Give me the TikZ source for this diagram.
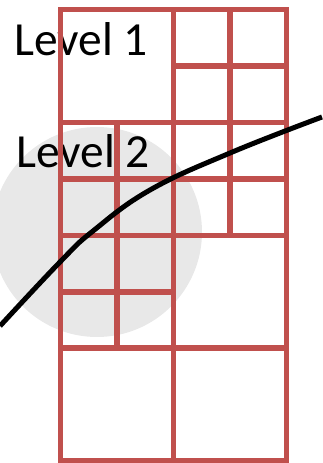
\documentclass[tikz,border=0pt]{standalone}
\usepackage{fontspec}
\setmainfont{Carlito}
\definecolor{cellred}{HTML}{C0504D}
\definecolor{blobgrey}{HTML}{E8E8E8}

\begin{document}
\begin{tikzpicture}[
  x=1pt, y=-1pt,
  gridline/.style={draw=cellred, line width=5.5pt},
  curve/.style={draw=black, line width=5pt},
  level/.style={anchor=base west, inner sep=0pt, font=\fontsize{47.5}{52}\selectfont},
]
\useasboundingbox (0,0) rectangle (322,463);

% grey blob behind the grid
\fill[blobgrey] (97,232) circle[radius=105pt];

\node[level] (lvlone) at (14,55) {Level 1};
\node[level] (lvltwo) at (16,167) {Level 2};

% refinement grid, in cell units
\begin{scope}[shift={(60.5,9.5)}, x=56.5pt, y=-56.45pt]
  \draw[gridline] (0,0) rectangle (4,8);
  \draw[gridline] (2,0) -- (2,8);
  \foreach \r in {2,3,4,6}
    \draw[gridline] (0,\r) -- (4,\r);
  \draw[gridline] (2,1) -- (4,1);
  \draw[gridline] (0,5) -- (2,5);
  \draw[gridline] (3,0) -- (3,4);
  \draw[gridline] (1,2) -- (1,6);
\end{scope}

\draw[curve] plot[smooth, tension=0.7] coordinates
  {(0,326) (60,262) (93,231) (150,190) (230,153) (322,117)};
\end{tikzpicture}
\end{document}
